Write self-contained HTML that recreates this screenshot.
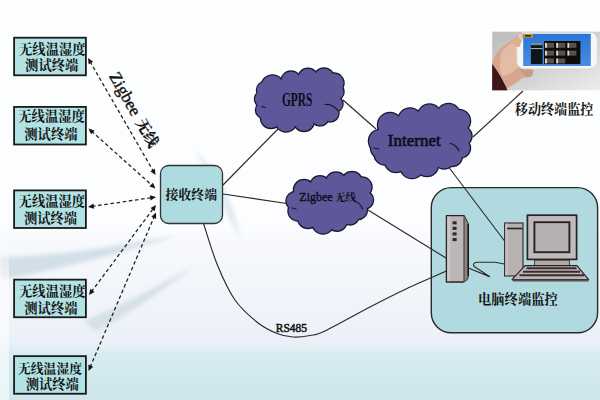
<!DOCTYPE html>
<html><head><meta charset="utf-8"><title>diagram</title>
<style>html,body{margin:0;padding:0;background:#fff;}body{width:600px;height:400px;overflow:hidden;font-family:"Liberation Sans",sans-serif;}svg{display:block}</style>
</head><body><svg width="600" height="400" viewBox="0 0 600 400"><defs>

<linearGradient id="bg" x1="0" y1="0" x2="0" y2="1">
<stop offset="0" stop-color="#fdfefe"/><stop offset="0.56" stop-color="#fcfdfe"/>
<stop offset="0.62" stop-color="#f6f8fc"/><stop offset="0.8" stop-color="#eff3f9"/><stop offset="0.86" stop-color="#e9f0f8"/><stop offset="0.885" stop-color="#d9ebf1"/>
<stop offset="0.92" stop-color="#d4eaee"/><stop offset="0.965" stop-color="#d0e8ed"/><stop offset="1" stop-color="#cfe6ec"/></linearGradient>
<linearGradient id="lstrip" x1="0" y1="0" x2="0" y2="1"><stop offset="0" stop-color="#fff" stop-opacity="0"/><stop offset="0.3" stop-color="#fff" stop-opacity="0.6"/><stop offset="1" stop-color="#fff" stop-opacity="0.6"/></linearGradient>
<linearGradient id="photo" x1="0" y1="0" x2="1" y2="1">
<stop offset="0" stop-color="#bdbdbd"/><stop offset="0.5" stop-color="#cfcfcf"/><stop offset="1" stop-color="#ededed"/></linearGradient>
<linearGradient id="scr" x1="0" y1="0" x2="0" y2="1"><stop offset="0" stop-color="#2a74d6"/><stop offset="1" stop-color="#4a8ee0"/></linearGradient>
<filter id="blur3" x="-10%" y="-50%" width="120%" height="200%"><feGaussianBlur stdDeviation="2.2"/></filter>
<filter id="blur1"><feGaussianBlur stdDeviation="0.6"/></filter>

</defs>
<rect width="600" height="400" fill="url(#bg)"/>
<g filter="url(#blur3)"><path d="M0,257 C60,256 120,246 178,235 C120,253 60,270 0,280 Z" fill="#d3dfe8"/><path d="M84,321 C115,308 150,291 194,266 C162,292 126,315 96,332 Z" fill="#d6e0e9"/><path d="M195,150 C215,170 235,200 240,240 C225,210 210,180 195,150 Z" fill="#dfeaf2"/></g>
<rect x="0" y="230" width="9" height="170" fill="url(#lstrip)"/>
<rect x="14.1" y="37.70" width="71.8" height="37.6" fill="#b3e2e4" stroke="#1a1a1a" stroke-width="1.8"/>
<text x="19.05" y="54.4" font-size="13.3" font-weight="bold" fill="#111" font-family='"Liberation Serif","Noto Serif CJK SC",serif'>无线温湿度</text>
<text x="25.10" y="69.9" font-size="13.3" font-weight="bold" fill="#111" font-family='"Liberation Serif","Noto Serif CJK SC",serif'>测试终端</text>
<rect x="14.1" y="106.90" width="71.8" height="37.6" fill="#b3e2e4" stroke="#1a1a1a" stroke-width="1.8"/>
<text x="18.30" y="121.0" font-size="13.3" font-weight="bold" fill="#111" font-family='"Liberation Serif","Noto Serif CJK SC",serif'>无线温湿度</text>
<text x="24.30" y="139.2" font-size="13.3" font-weight="bold" fill="#111" font-family='"Liberation Serif","Noto Serif CJK SC",serif'>测试终端</text>
<rect x="14.1" y="190.40" width="71.8" height="37.6" fill="#b3e2e4" stroke="#1a1a1a" stroke-width="1.8"/>
<text x="18.60" y="205.7" font-size="13.3" font-weight="bold" fill="#111" font-family='"Liberation Serif","Noto Serif CJK SC",serif'>无线温湿度</text>
<text x="23.90" y="223.4" font-size="13.3" font-weight="bold" fill="#111" font-family='"Liberation Serif","Noto Serif CJK SC",serif'>测试终端</text>
<rect x="14.1" y="279.65" width="71.8" height="37.6" fill="#b3e2e4" stroke="#1a1a1a" stroke-width="1.8"/>
<text x="19.05" y="296.4" font-size="13.3" font-weight="bold" fill="#111" font-family='"Liberation Serif","Noto Serif CJK SC",serif'>无线温湿度</text>
<text x="24.30" y="313.4" font-size="13.3" font-weight="bold" fill="#111" font-family='"Liberation Serif","Noto Serif CJK SC",serif'>测试终端</text>
<rect x="14.1" y="356.15" width="71.8" height="37.6" fill="#b3e2e4" stroke="#1a1a1a" stroke-width="1.8"/>
<text x="18.00" y="373.2" font-size="12.8" font-weight="bold" fill="#111" font-family='"Liberation Serif","Noto Serif CJK SC",serif'>无线温湿度</text>
<text x="25.70" y="389.2" font-size="13.3" font-weight="bold" fill="#111" font-family='"Liberation Serif","Noto Serif CJK SC",serif'>测试终端</text>
<line x1="90.0" y1="61.5" x2="153.5" y2="171.5" stroke="#242424" stroke-width="1.3" stroke-dasharray="3.6 2.6"/><polygon points="155.5,175.0 150.3,171.3 154.9,168.7" fill="#151515"/><polygon points="88.0,58.0 93.2,61.7 88.6,64.3" fill="#151515"/>
<line x1="91.5" y1="131.2" x2="152.5" y2="185.8" stroke="#242424" stroke-width="1.3" stroke-dasharray="3.6 2.6"/><polygon points="155.5,188.5 149.4,186.6 152.9,182.7" fill="#151515"/><polygon points="88.5,128.5 94.6,130.4 91.1,134.3" fill="#151515"/>
<line x1="92.0" y1="206.4" x2="152.0" y2="197.6" stroke="#242424" stroke-width="1.3" stroke-dasharray="3.6 2.6"/><polygon points="156.0,197.0 150.6,200.4 149.9,195.3" fill="#151515"/><polygon points="88.0,207.0 93.4,203.6 94.1,208.7" fill="#151515"/>
<line x1="91.4" y1="291.8" x2="153.6" y2="208.2" stroke="#242424" stroke-width="1.3" stroke-dasharray="3.6 2.6"/><polygon points="156.0,205.0 154.6,211.2 150.5,208.1" fill="#151515"/><polygon points="89.0,295.0 90.4,288.8 94.5,291.9" fill="#151515"/>
<line x1="90.1" y1="367.3" x2="154.4" y2="216.2" stroke="#242424" stroke-width="1.3" stroke-dasharray="3.6 2.6"/><polygon points="156.0,212.5 156.1,218.9 151.3,216.8" fill="#151515"/><polygon points="88.5,371.0 88.4,364.6 93.2,366.7" fill="#151515"/>
<g transform="translate(134,110.5) rotate(60.5)"><text x="-42.44" y="5" font-size="17" fill="#111" stroke="#111" stroke-width="0.4" font-family='"Liberation Serif","Noto Serif CJK SC",serif'>Zigbee</text><text x="11" y="4.7" font-size="15" font-weight="bold" fill="#111" stroke="#111" stroke-width="0.24" font-family='"Liberation Serif","Noto Serif CJK SC",serif'>无线</text></g>
<rect x="431.3" y="187.6" width="166.3" height="145.2" rx="20" fill="#b0dadf" stroke="#2a2a2a" stroke-width="1.4"/>
<line x1="223" y1="185" x2="278" y2="129" stroke="#2e2a2a" stroke-width="1.15" fill="none"/>
<line x1="223" y1="194" x2="290" y2="204" stroke="#2e2a2a" stroke-width="1.15" fill="none"/>
<line x1="343" y1="100" x2="376" y2="129" stroke="#2e2a2a" stroke-width="1.15" fill="none"/>
<line x1="473" y1="137" x2="523" y2="91" stroke="#2e2a2a" stroke-width="1.15" fill="none"/>
<line x1="368" y1="210" x2="446" y2="258" stroke="#2e2a2a" stroke-width="1.15" fill="none"/>
<path d="M203.5,223.5 C205.8,230.2 211.8,251.2 217,264 C222.2,276.8 228.2,290.2 235,300 C241.8,309.8 250.5,316.9 257.5,322.5 C264.5,328.1 271.1,331.1 277,333.5 C282.9,335.9 287.5,336.7 293,337 C298.5,337.3 304.7,336.5 310,335.5 C315.3,334.5 315.0,335.8 325,331 C335.0,326.2 356.5,314.0 370,307 C383.5,300.0 393.2,295.0 406,289 C418.8,283.0 439.8,274.0 446.5,271" stroke="#2e2a2a" stroke-width="1.15" fill="none"/>
<rect x="160.5" y="165.5" width="62" height="58" rx="8" fill="#aedbe0" stroke="#333" stroke-width="1.3"/>
<text x="165.5" y="199.0" font-size="12.9" font-weight="bold" fill="#111" font-family='"Liberation Serif","Noto Serif CJK SC",serif'>接收终端</text>
<line x1="449" y1="167.5" x2="505" y2="241.5" stroke="#2e2a2a" stroke-width="1.15" fill="none"/>
<g fill="#5e5799" stroke="#1c1830" stroke-width="2.5"><ellipse cx="299" cy="100" rx="37" ry="23"/><circle cx="272.5" cy="86.5" r="11"/><circle cx="291" cy="81" r="9.5"/><circle cx="308" cy="78.5" r="9.7"/><circle cx="324" cy="78" r="9.6"/><circle cx="334" cy="83" r="9.5"/><circle cx="336" cy="92" r="7.5"/><circle cx="335" cy="104" r="7.5"/><circle cx="330" cy="113" r="8.5"/><circle cx="320" cy="117" r="8.5"/><circle cx="304" cy="121" r="10"/><circle cx="286" cy="121" r="10.5"/><circle cx="271" cy="118" r="10"/><circle cx="264" cy="110" r="8"/><circle cx="263" cy="99" r="8"/><circle cx="265" cy="90" r="8"/></g><g fill="#5e5799"><ellipse cx="299" cy="100" rx="37" ry="23"/><circle cx="272.5" cy="86.5" r="11"/><circle cx="291" cy="81" r="9.5"/><circle cx="308" cy="78.5" r="9.7"/><circle cx="324" cy="78" r="9.6"/><circle cx="334" cy="83" r="9.5"/><circle cx="336" cy="92" r="7.5"/><circle cx="335" cy="104" r="7.5"/><circle cx="330" cy="113" r="8.5"/><circle cx="320" cy="117" r="8.5"/><circle cx="304" cy="121" r="10"/><circle cx="286" cy="121" r="10.5"/><circle cx="271" cy="118" r="10"/><circle cx="264" cy="110" r="8"/><circle cx="263" cy="99" r="8"/><circle cx="265" cy="90" r="8"/></g>
<g fill="#5e5799" stroke="#1c1830" stroke-width="2.5"><ellipse cx="420" cy="141" rx="40" ry="26"/><circle cx="390" cy="125" r="12"/><circle cx="410" cy="120" r="11.5"/><circle cx="429.5" cy="116" r="11.5"/><circle cx="448.5" cy="115.5" r="11.5"/><circle cx="459" cy="121" r="11"/><circle cx="462" cy="136" r="9.5"/><circle cx="460.5" cy="148" r="9.5"/><circle cx="452" cy="156" r="10"/><circle cx="444" cy="158" r="10.5"/><circle cx="427" cy="165" r="11"/><circle cx="412" cy="166.5" r="11.5"/><circle cx="396" cy="161" r="11"/><circle cx="385" cy="154" r="10.5"/><circle cx="380" cy="141" r="11"/><circle cx="381" cy="148" r="10"/></g><g fill="#5e5799"><ellipse cx="420" cy="141" rx="40" ry="26"/><circle cx="390" cy="125" r="12"/><circle cx="410" cy="120" r="11.5"/><circle cx="429.5" cy="116" r="11.5"/><circle cx="448.5" cy="115.5" r="11.5"/><circle cx="459" cy="121" r="11"/><circle cx="462" cy="136" r="9.5"/><circle cx="460.5" cy="148" r="9.5"/><circle cx="452" cy="156" r="10"/><circle cx="444" cy="158" r="10.5"/><circle cx="427" cy="165" r="11"/><circle cx="412" cy="166.5" r="11.5"/><circle cx="396" cy="161" r="11"/><circle cx="385" cy="154" r="10.5"/><circle cx="380" cy="141" r="11"/><circle cx="381" cy="148" r="10"/></g>
<g fill="#5e5799" stroke="#1c1830" stroke-width="2.5"><ellipse cx="330" cy="203" rx="34" ry="21"/><circle cx="304" cy="190" r="10"/><circle cx="320" cy="186" r="9.7"/><circle cx="336" cy="182.5" r="10"/><circle cx="352" cy="182" r="10"/><circle cx="362" cy="187" r="9.5"/><circle cx="364.5" cy="200" r="8.5"/><circle cx="358" cy="210" r="9"/><circle cx="350" cy="215.5" r="9"/><circle cx="337" cy="221" r="9.7"/><circle cx="323" cy="223" r="10.5"/><circle cx="308" cy="218" r="10"/><circle cx="298" cy="211" r="9.5"/><circle cx="295.5" cy="201" r="9"/></g><g fill="#5e5799"><ellipse cx="330" cy="203" rx="34" ry="21"/><circle cx="304" cy="190" r="10"/><circle cx="320" cy="186" r="9.7"/><circle cx="336" cy="182.5" r="10"/><circle cx="352" cy="182" r="10"/><circle cx="362" cy="187" r="9.5"/><circle cx="364.5" cy="200" r="8.5"/><circle cx="358" cy="210" r="9"/><circle cx="350" cy="215.5" r="9"/><circle cx="337" cy="221" r="9.7"/><circle cx="323" cy="223" r="10.5"/><circle cx="308" cy="218" r="10"/><circle cx="298" cy="211" r="9.5"/><circle cx="295.5" cy="201" r="9"/></g>
<path d="M325,104.5 C329,104 334,106 338,110.5" stroke="#1c1830" stroke-width="1.2" fill="none" stroke-linecap="round"/><path d="M261.5,106.5 L265,107.5" stroke="#1c1830" stroke-width="1.2" fill="none" stroke-linecap="round"/>
<path d="M450,143.5 C453,143.5 457,146.5 459,151" stroke="#1c1830" stroke-width="1.2" fill="none" stroke-linecap="round"/><path d="M373.5,148 L379,149" stroke="#1c1830" stroke-width="1.2" fill="none" stroke-linecap="round"/>
<path d="M355,201.5 C358,202 361,205 362.5,209" stroke="#1c1830" stroke-width="1.2" fill="none" stroke-linecap="round"/><path d="M292,208 L296,209" stroke="#1c1830" stroke-width="1.2" fill="none" stroke-linecap="round"/>
<text transform="translate(281.99,106) scale(0.6,1)" font-size="19" font-weight="bold" fill="#0c0c18" font-family='"Liberation Serif",serif'>GPRS</text>
<text x="387.8" y="146.3" font-size="17" fill="#0c0c18" stroke="#0c0c18" stroke-width="0.6" font-family='"Liberation Serif",serif'>Internet</text>
<text x="299.31" y="200.8" font-size="12" fill="#0c0c18" stroke="#0c0c18" stroke-width="0.35" font-family='"Liberation Serif",serif'>Zigbee</text>
<text x="335" y="201.2" font-size="10.5" font-weight="bold" fill="#0c0c18" font-family='"Liberation Serif","Noto Serif CJK SC",serif'>无线</text>
<text x="275.74" y="331.6" font-size="11.5" fill="#151515" stroke="#151515" stroke-width="0.5" font-family='"Liberation Serif",serif'>RS485</text>
<text x="514.8" y="114.2" font-size="13.1" font-weight="bold" fill="#111" font-family='"Liberation Serif","Noto Serif CJK SC",serif'>移动终端监控</text>
<text x="478" y="304.4" font-size="13.3" font-weight="bold" fill="#111" font-family='"Liberation Serif","Noto Serif CJK SC",serif'>电脑终端监控</text>
<path d="M446.4,215.6 L464,215.6 L468.3,224 L468.3,275 C468,279 466,281 463.5,282 L446.4,282 Z" fill="#bdb6b6" stroke="#2a2222" stroke-width="1.3" stroke-linejoin="round"/>
<path d="M464,216 L468,224 L468,275 C467.5,279 466,281 464,281.5 Z" fill="#8c8383"/>
<rect x="447.2" y="216.6" width="3" height="64.6" fill="#cfc9c9" opacity="0.8"/>
<line x1="464" y1="216.5" x2="464" y2="281.5" stroke="#4a4040" stroke-width="1.1"/>
<line x1="468.2" y1="224" x2="468.2" y2="276" stroke="#1a1414" stroke-width="1.6"/>
<rect x="452.6" y="221.3" width="4" height="3.1" fill="#2e2828"/>
<rect x="452.6" y="226.8" width="4" height="3.1" fill="#2e2828"/>
<rect x="452.6" y="232.4" width="4" height="3.1" fill="#2e2828"/>
<rect x="452.6" y="238" width="4" height="3.1" fill="#2e2828"/>
<path d="M468.3,268 L489.5,276.6 L474.2,266.6 C472.5,264.5 474,262.6 477,262.3 L495,262.2 L504.3,264" stroke="#2e2a2a" stroke-width="1.15" fill="none" stroke-width="1.25" stroke-linejoin="round"/>
<rect x="504.6" y="223" width="18.4" height="53" fill="#b8b1b1" stroke="#3a3030" stroke-width="1.2"/>
<rect x="505.3" y="223.6" width="2.6" height="51.8" fill="#cbc5c5" opacity="0.8"/>
<line x1="507" y1="228.5" x2="522.6" y2="228.5" stroke="#2a2020" stroke-width="1.6"/>
<rect x="527.4" y="215.2" width="49.2" height="44.2" fill="#c1baba" stroke="#2a2222" stroke-width="1.7"/>
<rect x="534.4" y="222.2" width="35" height="30" fill="#b7b0b0" stroke="#2a2222" stroke-width="1.9"/>
<rect x="534.5" y="260.2" width="35" height="5.3" fill="#b0a8a8" stroke="#3a3030" stroke-width="0.9"/>
<path d="M525,265.7 L577,265.7 L588.6,279.6 L512,279.6 Z" fill="#bdb5b5" stroke="#2a2222" stroke-width="1.2" stroke-linejoin="round"/>
<path d="M526.5,268.3 L576.5,268.3 M523,271.7 L580,271.7 M519.5,275.3 L584,275.3" stroke="#372c2c" stroke-width="2" fill="none"/>
<path d="M512,279.4 L588.6,279.4 L588.6,281.6 L513,281.6 Z" fill="#5a4e4e"/>
<g>
<rect x="492.2" y="31.7" width="108" height="58.6" fill="url(#photo)"/>
<g filter="url(#blur1)">
<path d="M492.2,62 C495,54 499,49 505,45 C510,42 514,39 518,35.5 C520,34 523,35 522.5,38 L521,50 L520,68 L533,69.5 C534,73 532,77 529,77.5 C526,78 524,77 522,78 C517,83 511,86 506.5,88.5 L492.2,72 Z" fill="#d6a68e"/>
<path d="M503,50 C508,45 514,41 519,37 L519.5,66 C514,72 508,76 502,76 C499,68 499,58 503,50 Z" fill="#e4bba4"/>
<path d="M520,69 L533,69.8 C533.5,73 532,76.5 529,77 C525,77 522,74 520,69 Z" fill="#c99a84"/>
<path d="M492.2,74 C497,79 502,84 506,88 L507.5,90.3 L492.2,90.3 Z" fill="#c08f7a"/>
<path d="M492.2,64 C497,70 503,80 507.5,90.3 L492.2,90.3 Z" fill="#3c181c"/>
<rect x="516.8" y="32.3" width="80.5" height="36.6" rx="7.5" fill="#f6f6f4" stroke="#d8d4cc" stroke-width="0.8"/>
<rect x="523.2" y="33.8" width="67.6" height="32.2" fill="url(#scr)"/>
<rect x="530.9" y="43" width="11.7" height="21.1" fill="#0b1512"/>
<rect x="530.9" y="43" width="11.7" height="2.2" fill="#7a8a98"/>
<rect x="530.9" y="48.2" width="11.7" height="0.9" fill="#c8d4e0"/>
<rect x="544" y="41" width="36.4" height="23.1" fill="#0a0d10"/>
<path d="M511,42.5 C514,39 517,35.5 519.5,33.2 C521.5,32 523.5,33.5 523,36 C522.5,39 521,43 519.5,47 L517.5,47 Z" fill="#dcae96"/>
<path d="M518.5,34.5 C520.5,33.2 522.5,34 522.2,36 L521,40 C519.5,39 518.5,37 518.5,34.5 Z" fill="#edcbb8"/>
<rect x="523.8" y="34" width="9" height="3.6" fill="#c89a10"/>
<rect x="525" y="35" width="6" height="1.6" fill="#3a2a08"/>
<rect x="547.0" y="42.9" width="7" height="4.9" fill="#5e4f4c"/>
<rect x="545.0" y="42.9" width="1.9" height="4.9" fill="#dcdcdc"/>
<rect x="558.2" y="42.9" width="7" height="4.9" fill="#5e4f4c"/>
<rect x="556.2" y="42.9" width="1.9" height="4.9" fill="#dcdcdc"/>
<rect x="569.4" y="42.9" width="7" height="4.9" fill="#5e4f4c"/>
<rect x="567.4" y="42.9" width="1.9" height="4.9" fill="#dcdcdc"/>
<rect x="547.0" y="50.699999999999996" width="7" height="4.9" fill="#5e4f4c"/>
<rect x="545.0" y="50.699999999999996" width="1.9" height="4.9" fill="#dcdcdc"/>
<rect x="558.2" y="50.699999999999996" width="7" height="4.9" fill="#5e4f4c"/>
<rect x="556.2" y="50.699999999999996" width="1.9" height="4.9" fill="#dcdcdc"/>
<rect x="569.4" y="50.699999999999996" width="7" height="4.9" fill="#5e4f4c"/>
<rect x="567.4" y="50.699999999999996" width="1.9" height="4.9" fill="#dcdcdc"/>
<rect x="547.0" y="58.5" width="7" height="4.9" fill="#5e4f4c"/>
<rect x="545.0" y="58.5" width="1.9" height="4.9" fill="#dcdcdc"/>
<rect x="558.2" y="58.5" width="7" height="4.9" fill="#5e4f4c"/>
<rect x="556.2" y="58.5" width="1.9" height="4.9" fill="#dcdcdc"/>
</g></g></svg></body></html>
